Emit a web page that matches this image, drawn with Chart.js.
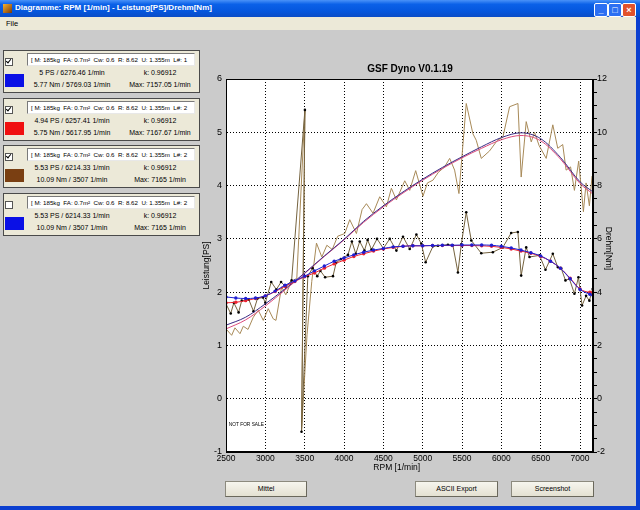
<!DOCTYPE html>
<html>
  <head>
    <meta charset="utf-8" />
    <title>Diagramme: RPM [1/min] - Leistung[PS]/Drehm[Nm]</title>
    <script src="https://cdn.jsdelivr.net/npm/chart.js"></script>
    <style>
      body {
        margin: 0;
        width: 640px;
        height: 510px;
        overflow: hidden;
        position: relative;
        background: #cbcbcb;
        font-family: "Liberation Sans", Arial, sans-serif;
      }
      .titlebar {
        position: absolute; left: 0; top: 0; width: 640px; height: 17px;
        background: linear-gradient(#4a92f8 0%, #0b61e8 25%, #0557de 65%, #0a4cc6 100%);
      }
      .titlebar .icon {
        position: absolute; left: 3px; top: 4px; width: 9px; height: 9px;
        background: linear-gradient(135deg, #f5b030, #7a3a08);
      }
      .titlebar .text {
        position: absolute; left: 15px; top: 3px; color: #fff;
        font-weight: bold; font-size: 8px; white-space: nowrap;
      }
      .wbtn {
        position: absolute; top: 3px; width: 12px; height: 12px;
        border: 1px solid #fff; border-radius: 2px; background: #2c6ff2;
        color: #fff; font-size: 9px; font-weight: bold; line-height: 12px; text-align: center;
      }
      .wbtn.close { background: #e2522c; }
      .menubar {
        position: absolute; left: 0; top: 17px; width: 636px; height: 13px;
        background: #ece9d8; font-size: 7.5px;
      }
      .menubar span { position: absolute; left: 6px; top: 2px; }
      .rborder { position: absolute; left: 636px; top: 17px; width: 4px; height: 493px; background: #0b3fd0; }
      .bborder { position: absolute; left: 0; top: 506px; width: 640px; height: 4px; background: #0b3fd0; }
      .run {
        position: absolute; left: 3px; width: 195px; height: 41px;
        border: 1px solid #4a4a4a; background: #ece9d8; font-size: 7px;
      }
      .run .chk {
        position: absolute; left: 1px; top: 7px; width: 6px; height: 6px;
        border: 1px solid #555; background: #fff;
      }
      .run .chk i {
        position: absolute; left: 1px; top: -1px; width: 2px; height: 4px;
        border-right: 1.5px solid #000; border-bottom: 1.5px solid #000;
        transform: rotate(40deg);
      }
      .run .field {
        position: absolute; left: 23px; top: 2px; width: 163px; height: 11px;
        background: #fff; border: 1px solid #7a7a7a; border-right-color: #e8e8e8; border-bottom-color: #e8e8e8;
        font-size: 6.2px; line-height: 11px; padding-left: 3px; white-space: pre; overflow: hidden;
      }
      .run .swatch { position: absolute; left: 1px; top: 23px; width: 19px; height: 13px; }
      .run .cell { position: absolute; width: 84px; text-align: center; white-space: nowrap; line-height: 9px; }
      .btn {
        position: absolute; top: 481px; height: 14px; border: 1px solid #8c8a7e;
        border-right-color: #6a685c; border-bottom-color: #6a685c;
        background: linear-gradient(#f6f5ee, #e4e1d2); font-size: 7px; line-height: 14px; text-align: center;
      }
      #plot { position: absolute; left: 190px; top: 55px; width: 440px; height: 425px; }
    </style>
  </head>
  <body>
    <div class="titlebar">
      <div class="icon"></div>
      <div class="text">Diagramme: RPM [1/min] - Leistung[PS]/Drehm[Nm]</div>
      <div class="wbtn" style="left: 594px">_</div>
      <div class="wbtn" style="left: 608px">□</div>
      <div class="wbtn close" style="left: 622px">×</div>
    </div>
    <div class="menubar"><span>File</span></div>
    <div id="runs"></div>
    <div id="plot"><canvas id="dyno"></canvas></div>
    <div class="btn" style="left: 225px; width: 80px">Mittel</div>
    <div class="btn" style="left: 415px; width: 81px">ASCII Export</div>
    <div class="btn" style="left: 511px; width: 81px">Screenshot</div>
    <div class="rborder"></div>
    <div class="bborder"></div>
    <script>
      // run list on the left
      var runNames = [
        '[ M: 185kg  FA: 0.7m²  Cw: 0.6  R: 8.62  U: 1.355m  L#: 1',
        '[ M: 185kg  FA: 0.7m²  Cw: 0.6  R: 8.62  U: 1.355m  L#: 2',
        '[ M: 185kg  FA: 0.7m²  Cw: 0.6  R: 8.62  U: 1.355m  L#: 2',
        '[ M: 185kg  FA: 0.7m²  Cw: 0.6  R: 8.62  U: 1.355m  L#: 2'
      ];
      var runPower = ['5 PS / 6276.46 1/min', '4.94 PS / 6257.41 1/min', '5.53 PS / 6214.33 1/min', '5.53 PS / 6214.33 1/min'];
      var runTorque = ['5.77 Nm / 5769.03 1/min', '5.75 Nm / 5617.95 1/min', '10.09 Nm / 3507 1/min', '10.09 Nm / 3507 1/min'];
      var runK = ['k: 0.96912', 'k: 0.96912', 'k: 0.96912', 'k: 0.96912'];
      var runMax = ['Max: 7157.05 1/min', 'Max: 7167.67 1/min', 'Max: 7165 1/min', 'Max: 7165 1/min'];
      var runColors = ['#0a10e6', '#f01010', '#7a3f12', '#0a10e6'];
      var runChecked = [true, true, true, false];

      // x axis
      var rpmTicks = [2500, 3000, 3500, 4000, 4500, 5000, 5500, 6000, 6500, 7000];

      // fitted power, PS (left axis)
      var rpmFit = [2500, 2750, 3000, 3250, 3500, 3750, 4000, 4250, 4500, 4750, 5000, 5250, 5500, 5750, 6000, 6250, 6500, 6750, 7000, 7165];
      var psFit1 = [1.38, 1.53, 1.78, 2.06, 2.36, 2.68, 2.99, 3.33, 3.62, 3.88, 4.12, 4.34, 4.54, 4.73, 4.9, 4.99, 4.88, 4.53, 4.07, 3.88];
      var psFit2 = [1.31, 1.48, 1.74, 2.04, 2.35, 2.67, 2.98, 3.31, 3.6, 3.86, 4.1, 4.32, 4.52, 4.7, 4.86, 4.94, 4.84, 4.5, 4.04, 3.84];

      // fitted torque, Nm (right axis)
      var rpmNm = [2500, 2625, 2750, 2875, 3000, 3125, 3250, 3375, 3500, 3625, 3750, 3875, 4000, 4125, 4250, 4375, 4500, 4625, 4750, 4875,
        5000, 5125, 5250, 5375, 5500, 5625, 5750, 5875, 6000, 6125, 6250, 6375, 6500, 6625, 6750, 6875, 7000, 7125, 7165];
      var nmFit1 = [3.82, 3.78, 3.76, 3.78, 3.86, 4.04, 4.26, 4.42, 4.6, 4.8, 4.98, 5.16, 5.28, 5.4, 5.5, 5.58, 5.64, 5.7, 5.72, 5.74,
        5.74, 5.75, 5.76, 5.76, 5.77, 5.77, 5.77, 5.76, 5.72, 5.66, 5.58, 5.48, 5.36, 5.16, 4.9, 4.5, 4.1, 3.92, 3.88];
      var nmFit2 = [3.6, 3.62, 3.68, 3.76, 3.86, 4.02, 4.22, 4.4, 4.58, 4.72, 4.9, 5.06, 5.2, 5.34, 5.44, 5.54, 5.62, 5.68, 5.72, 5.74,
        5.74, 5.75, 5.75, 5.75, 5.75, 5.75, 5.74, 5.72, 5.68, 5.62, 5.54, 5.46, 5.34, 5.16, 4.9, 4.52, 4.12, 4.0, 4.0];

      // raw run 3, power PS
      var rpmRawPs = [2500, 2572, 2614, 2678, 2720, 2780, 2847, 2910, 2974, 3037, 3100, 3135, 3207, 3260, 3330, 3400, 3503, 3460, 3530, 3590,
        3650, 3718, 3782, 3850, 3920, 4010, 4073, 4158, 4230, 4285, 4369, 4454, 4539, 4602, 4666, 4772, 4835, 4911, 5004, 5060,
        5130, 5200, 5279, 5343, 5406, 5461, 5554, 5639, 5681, 5745, 5850, 5950, 6020, 6105, 6211, 6252, 6316, 6380, 6422, 6480,
        6570, 6654, 6717, 6780, 6823, 6880, 6929, 6983, 7043, 7077, 7119, 7153];
      var psRaw3 = [1.31, 1.19, 1.33, 1.22, 1.36, 1.3, 1.53, 1.66, 1.47, 1.69, 1.5, 1.47, 2.1, 1.95, 2.2, 2.26, 5.42, -0.6, 1.2, 2.2,
        2.92, 2.66, 2.88, 2.8, 3.05, 3.1, 3.36, 3.1, 3.55, 3.66, 3.48, 3.79, 3.6, 3.95, 3.73, 4.09, 3.91, 4.28, 3.8, 4.05,
        4.1, 4.25, 4.35, 4.51, 4.29, 3.85, 5.54, 4.97, 4.85, 4.51, 4.65, 4.85, 4.91, 5.48, 5.54, 4.16, 5.2, 4.82, 5.0, 4.75,
        4.51, 5.14, 4.7, 4.77, 4.29, 4.35, 3.91, 4.46, 3.51, 4.05, 3.62, 4.18];

      // raw run 3, torque Nm
      var rpmRawNm = [2500, 2560, 2600, 2660, 2700, 2790, 2850, 2900, 2970, 3000, 3075, 3140, 3200, 3260, 3334, 3503, 3460, 3540, 3600, 3660,
        3700, 3760, 3860, 3900, 3960, 4050, 4100, 4150, 4200, 4260, 4300, 4350, 4420, 4500, 4581, 4666, 4750, 4835, 4920, 4983,
        5038, 5131, 5194, 5321, 5384, 5448, 5491, 5554, 5618, 5745, 5892, 6019, 6125, 6210, 6252, 6316, 6358, 6485, 6561, 6654,
        6717, 6760, 6815, 6865, 6929, 6980, 7026, 7077, 7119, 7161];
      var nmRaw3 = [3.56, 3.2, 3.6, 3.24, 3.68, 3.72, 3.28, 3.76, 3.8, 3.6, 4.38, 4.1, 4.38, 4.2, 4.44, 10.84, -1.24, 4.6, 4.9, 4.6,
        4.8, 4.56, 4.6, 5.1, 5.24, 5.4, 5.9, 5.44, 5.9, 5.56, 5.96, 5.6, 6.0, 5.64, 6.0, 5.56, 6.08, 5.62, 6.16, 5.82,
        5.12, 5.72, 5.74, 5.78, 5.76, 4.74, 5.8, 7.0, 5.94, 5.46, 5.5, 5.68, 6.22, 6.26, 4.62, 5.68, 5.32, 5.38, 4.84, 5.44,
        4.94, 4.9, 4.44, 4.5, 3.94, 4.56, 3.5, 3.86, 3.68, 4.12];

      // build the run boxes
      var runs = document.getElementById('runs');
      runNames.forEach(function (name, i) {
        var box = document.createElement('div');
        box.className = 'run';
        box.style.top = 50 + Math.round(i * 47.7) + 'px';
        box.innerHTML =
          '<div class="chk">' + (runChecked[i] ? '<i></i>' : '') + '</div>' +
          '<div class="field">' + name + '</div>' +
          '<div class="swatch" style="background:' + runColors[i] + '"></div>' +
          '<div class="cell" style="left:26px;top:17px">' + runPower[i] + '</div>' +
          '<div class="cell" style="left:114px;top:17px">' + runK[i] + '</div>' +
          '<div class="cell" style="left:26px;top:29px">' + runTorque[i] + '</div>' +
          '<div class="cell" style="left:114px;top:29px">' + runMax[i] + '</div>';
        runs.appendChild(box);
      });

      function pts(xs, ys) {
        return xs.map(function (x, i) { return { x: x, y: ys[i] }; });
      }

      var plotFrame = {
        id: 'plotFrame',
        beforeDraw: function (chart) {
          var a = chart.chartArea, c = chart.ctx;
          c.save();
          c.fillStyle = '#fff';
          c.fillRect(a.left, a.top, a.right - a.left, a.bottom - a.top);
          c.restore();
        },
        afterDraw: function (chart) {
          var a = chart.chartArea, c = chart.ctx;
          c.save();
          c.strokeStyle = '#000';
          c.lineWidth = 1;
          c.strokeRect(Math.round(a.left) + 0.5, Math.round(a.top) + 0.5, Math.round(a.right - a.left) - 1, Math.round(a.bottom - a.top) - 1);
          c.fillStyle = '#000';
          c.font = '4.8px "Liberation Sans", Arial, sans-serif';
          c.textBaseline = 'middle';
          c.fillText('NOT FOR SALE', chart.scales.x.getPixelForValue(2535), chart.scales.y.getPixelForValue(-0.48));
          c.restore();
        }
      };

      Chart.defaults.font.family = '"Liberation Sans", Arial, sans-serif';
      Chart.defaults.font.size = 8.5;
      Chart.defaults.color = '#000';

      var ctx = document.getElementById('dyno').getContext('2d');
      var dynoChart = new Chart(ctx, {
        type: 'line',
        data: {
          datasets: [
            {
              label: 'Drehm 1', data: pts(rpmNm, nmFit1), yAxisID: 'y1',
              borderColor: '#1f1fd2', backgroundColor: '#1f1fd2', borderWidth: 1,
              pointRadius: 1.7, pointBorderWidth: 0, cubicInterpolationMode: 'monotone'
            },
            {
              label: 'Drehm 2', data: pts(rpmNm, nmFit2), yAxisID: 'y1',
              borderColor: '#ee2430', backgroundColor: '#ee2430', borderWidth: 1,
              pointRadius: 1.7, pointBorderWidth: 0, cubicInterpolationMode: 'monotone'
            },
            {
              label: 'Leistung 1', data: pts(rpmFit, psFit1), yAxisID: 'y',
              borderColor: '#3a2a84', borderWidth: 1, pointRadius: 0, cubicInterpolationMode: 'monotone'
            },
            {
              label: 'Leistung 2', data: pts(rpmFit, psFit2), yAxisID: 'y',
              borderColor: '#dc4c7c', borderWidth: 1, pointRadius: 0, cubicInterpolationMode: 'monotone'
            },
            {
              label: 'Drehm 3 roh', data: pts(rpmRawNm, nmRaw3), yAxisID: 'y1',
              borderColor: '#75633f', backgroundColor: '#000', borderWidth: 1,
              pointRadius: 1.3, pointBorderWidth: 0
            },
            {
              label: 'Leistung 3 roh', data: pts(rpmRawPs, psRaw3), yAxisID: 'y',
              borderColor: '#a88a58', borderWidth: 1, pointRadius: 0
            }
          ]
        },
        options: {
          responsive: true,
          maintainAspectRatio: false,
          animation: false,
          events: [],
          plugins: {
            legend: { display: false },
            tooltip: { enabled: false },
            title: {
              display: true,
              text: 'GSF Dyno V0.1.19',
              color: '#000',
              font: { size: 10, weight: 'bold' },
              padding: { top: 8, bottom: 4 }
            }
          },
          scales: {
            x: {
              type: 'linear',
              min: 2500,
              max: 7165,
              afterBuildTicks: function (s) {
                s.ticks = rpmTicks.map(function (v) { return { value: v }; });
              },
              afterFit: function (s) { s.height = 28; },
              grid: { color: '#000', drawTicks: false },
              border: { color: '#000', dash: [1, 2] },
              ticks: {
                padding: 2,
                maxRotation: 0,
                autoSkip: false,
                callback: function (v) { return String(v); }
              },
              title: { display: true, text: 'RPM [1/min]\u2003\u2003\u2003', padding: { top: 0, bottom: 7 } }
            },
            y: {
              position: 'left',
              min: -1,
              max: 6,
              afterFit: function (s) { s.width = 36; },
              grid: { color: '#000', drawTicks: false },
              border: { color: '#000', dash: [1, 2] },
              ticks: { stepSize: 1, padding: 4, font: { size: 9 } },
              title: { display: true, text: 'Leistung[PS]', padding: { top: 12, bottom: 0 } }
            },
            y1: {
              position: 'right',
              min: -2,
              max: 12,
              afterFit: function (s) { s.width = 37; },
              grid: { drawOnChartArea: false, drawTicks: true, tickLength: 4, tickColor: '#000', color: '#000' },
              border: { color: '#000' },
              ticks: {
                stepSize: 0.5,
                autoSkip: false,
                padding: 0,
                font: { size: 9 },
                callback: function (v) { return Math.abs(v % 2) < 1e-6 ? String(v) : ''; }
              },
              title: { display: true, text: 'Drehm[Nm]\u2003\u2003\u2003\u2003', padding: { top: 17, bottom: 0 } }
            }
          }
        },
        plugins: [plotFrame]
      });
    </script>
  </body>
</html>
